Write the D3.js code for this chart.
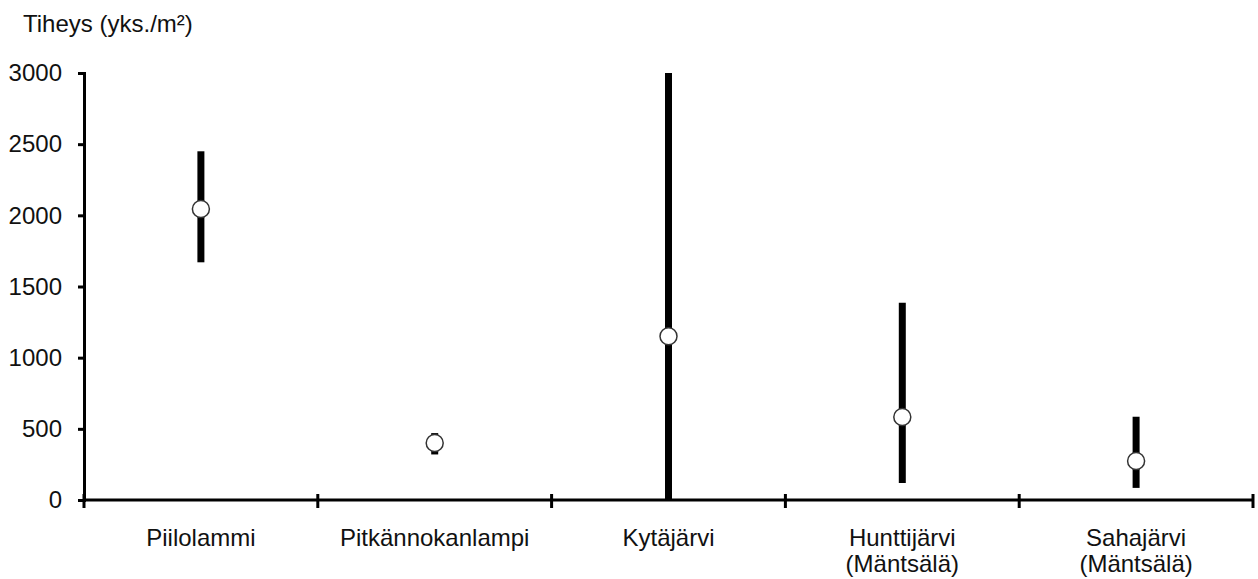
<!DOCTYPE html>
<html><head><meta charset="utf-8">
<script src="https://cdn.jsdelivr.net/npm/d3@7"></script>
<style>
html,body{margin:0;padding:0;background:#fff;}
text{font-family:"Liberation Sans",Arial,sans-serif;fill:#111;}
</style></head>
<body><svg id="c" width="1258" height="579"></svg>
<script>
const categories = ["Piilolammi", "Pitkännokanlampi", "Kytäjärvi", "Hunttijärvi\n(Mäntsälä)", "Sahajärvi\n(Mäntsälä)"];
const means = [2045, 400, 1150, 583, 274];
const lows  = [1670, 320, 0, 120, 85];
const highs = [2450, 470, 3000, 1385, 585];
const yTicks = [0, 500, 1000, 1500, 2000, 2500, 3000];
const yTitle = "Tiheys (yks./m²)";

const svg = d3.select("#c");
const x = d3.scaleBand().domain(categories).range([84, 1253]).padding(0);
const y = d3.scaleLinear().domain([0, 3000]).range([500, 73]);
const fs = 24;

// y axis
const ya = svg.append("g").attr("transform", "translate(84,0)")
  .call(d3.axisLeft(y).tickValues(yTicks).tickSize(6).tickPadding(16).tickFormat(d3.format("d")));
ya.select(".domain").attr("stroke", "#000").attr("stroke-width", 3);
ya.selectAll(".tick line").attr("stroke", "#000").attr("stroke-width", 3);
ya.selectAll(".tick text").style("font-size", fs + "px").attr("fill", "#111");

// x axis line
svg.append("line").attr("x1", x.range()[0]).attr("x2", x.range()[1])
  .attr("y1", y(0)).attr("y2", y(0)).attr("stroke", "#000").attr("stroke-width", 3);
const bounds = categories.map(c => x(c)).concat([x.range()[1]]);
svg.selectAll(".xt").data(bounds).enter().append("line")
  .attr("x1", d => d).attr("x2", d => d)
  .attr("y1", y(0) - 6).attr("y2", y(0) + 8)
  .attr("stroke", "#000").attr("stroke-width", 3);

// x labels
categories.forEach(c => {
  const lines = c.split("\n");
  const t = svg.append("text").attr("x", x(c) + x.bandwidth() / 2).attr("y", 546)
    .attr("text-anchor", "middle").style("font-size", fs + "px");
  lines.forEach((l, i) => t.append("tspan").attr("x", x(c) + x.bandwidth() / 2)
    .attr("dy", i === 0 ? 0 : 26).text(l));
});

// title
svg.append("text").attr("x", 23).attr("y", 32).style("font-size", fs + "px").text(yTitle);

// range bars
svg.selectAll(".bar").data(categories).enter().append("line")
  .attr("x1", (d) => x(d) + x.bandwidth() / 2).attr("x2", (d) => x(d) + x.bandwidth() / 2)
  .attr("y1", (d, i) => y(lows[i])).attr("y2", (d, i) => y(highs[i]))
  .attr("stroke", "#000").attr("stroke-width", 7);

// mean circles
svg.selectAll(".pt").data(categories).enter().append("circle")
  .attr("cx", (d) => x(d) + x.bandwidth() / 2).attr("cy", (d, i) => y(means[i]))
  .attr("r", 8.5).attr("fill", "#fff").attr("stroke", "#333").attr("stroke-width", 1.5);
</script></body></html>
